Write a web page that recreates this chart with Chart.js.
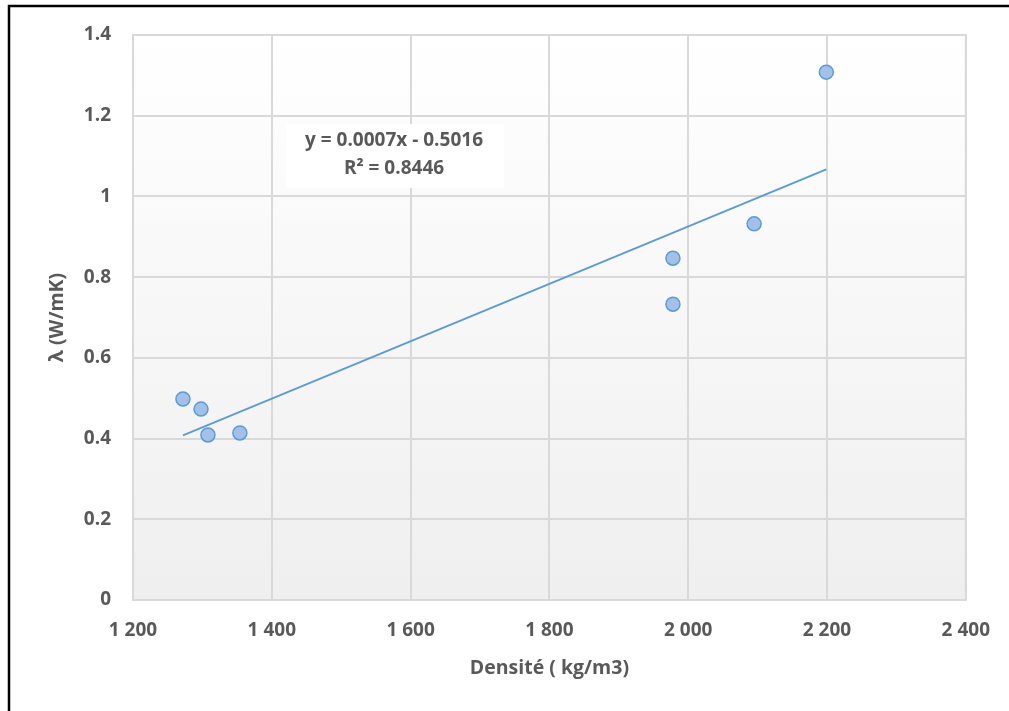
<!DOCTYPE html>
<html>
<head>
<meta charset="utf-8">
<script src="https://cdn.jsdelivr.net/npm/chart.js@4.4.1/dist/chart.umd.min.js"></script>
<style>
  body { margin: 0; background: #fff; }
</style>
</head>
<body>
<canvas id="graphique" width="1009" height="711"></canvas>
<script>
// densité (kg/m3) et conductivité lambda (W/mK)
var densite = [1272, 1298, 1308, 1354, 1978, 1978, 2095, 2199];
var lambda = [0.498, 0.473, 0.409, 0.414, 0.847, 0.733, 0.932, 1.308];
var equation = ['y = 0.0007x - 0.5016', 'R² = 0.8446'];
var titreX = 'Densité ( kg/m3)';
var titreY = 'λ (W/mK)';

// courbe de tendance linéaire (moindres carrés)
function tendance(xs, ys) {
    var n = xs.length, sx = 0, sy = 0, sxx = 0, sxy = 0;
    for (var i = 0; i < n; i++) {
        sx += xs[i]; sy += ys[i];
        sxx += xs[i] * xs[i]; sxy += xs[i] * ys[i];
    }
    var a = (n * sxy - sx * sy) / (n * sxx - sx * sx);
    var b = (sy - a * sx) / n;
    var xmin = Math.min.apply(null, xs), xmax = Math.max.apply(null, xs);
    return [{ x: xmin, y: a * xmin + b }, { x: xmax, y: a * xmax + b }];
}

var points = densite.map(function(d, i) { return { x: d, y: lambda[i] }; });

var police = "'Open Sans', 'Lato', sans-serif";
var gris = '#595959';

// fond dégradé de la zone de tracé + cadre noir
var fondPlugin = {
    id: 'fond',
    beforeDraw: function(chart) {
        var ctx = chart.ctx, a = chart.chartArea;
        ctx.save();
        var g = ctx.createLinearGradient(0, a.top, 0, a.bottom);
        g.addColorStop(0, '#ffffff');
        g.addColorStop(1, '#efefef');
        ctx.fillStyle = g;
        ctx.fillRect(a.left, a.top, a.right - a.left, a.bottom - a.top);
        ctx.strokeStyle = '#d9d9d9';
        ctx.lineWidth = 2;
        ctx.strokeRect(a.left, a.top, a.right - a.left, a.bottom - a.top);
        ctx.strokeStyle = '#000';
        ctx.lineWidth = 2.5;
        ctx.beginPath();
        ctx.moveTo(9, 711);
        ctx.lineTo(9, 6);
        ctx.lineTo(1009, 6);
        ctx.stroke();
        ctx.restore();
    },
    afterDatasetsDraw: function(chart) {
        var ctx = chart.ctx;
        ctx.save();
        ctx.fillStyle = '#ffffff';
        ctx.fillRect(286, 124, 218, 64);
        ctx.fillStyle = gris;
        ctx.font = 'bold 19px ' + police;
        ctx.textAlign = 'center';
        ctx.textBaseline = 'middle';
        ctx.fillText(equation[0], 394, 141);
        ctx.fillText(equation[1], 394, 169);
        ctx.restore();
    }
};

var ctx = document.getElementById('graphique').getContext('2d');
var nuage = new Chart(ctx, {
    type: 'scatter',
    data: {
        datasets: [{
            label: 'lambda',
            data: points,
            backgroundColor: '#a3c1e8',
            borderColor: '#5b9bd5',
            borderWidth: 1.5,
            pointRadius: 7,
            order: 1
        }, {
            label: 'tendance',
            type: 'line',
            data: tendance(densite, lambda),
            borderColor: '#5b9bd5',
            borderWidth: 1.75,
            pointRadius: 0,
            fill: false,
            order: 2
        }]
    },
    options: {
        responsive: false,
        animation: false,
        layout: { padding: { left: 0, top: 35, right: 43, bottom: 0 } },
        plugins: {
            legend: { display: false },
            tooltip: { enabled: false }
        },
        scales: {
            x: {
                type: 'linear',
                min: 1200,
                max: 2400,
                afterFit: function(s) { s.height = 111; },
                ticks: {
                    stepSize: 200,
                    padding: 19,
                    color: gris,
                    font: { family: police, size: 19, weight: 'bold' },
                    callback: function(v) { return String(v).replace(/\B(?=(\d{3})+(?!\d))/g, ' '); }
                },
                grid: { color: '#d9d9d9', lineWidth: 2, drawTicks: false },
                border: { display: false },
                title: {
                    display: true,
                    text: titreX,
                    color: gris,
                    font: { family: police, size: 19.5, weight: 'bold' },
                    padding: { top: 0, bottom: 31 }
                }
            },
            y: {
                min: 0,
                max: 1.4,
                afterFit: function(s) { s.width = 133; },
                ticks: {
                    stepSize: 0.2,
                    padding: 22,
                    color: gris,
                    font: { family: police, size: 19, weight: 'bold' },
                    callback: function(v) { return Math.round(v * 10) / 10; }
                },
                grid: { color: '#d9d9d9', lineWidth: 2, drawTicks: false },
                border: { display: false },
                title: {
                    display: true,
                    text: titreY,
                    color: gris,
                    font: { family: police, size: 19.5, weight: 'bold' },
                    padding: { top: 46, bottom: 0 }
                }
            }
        }
    },
    plugins: [fondPlugin]
});
</script>
</body>
</html>
